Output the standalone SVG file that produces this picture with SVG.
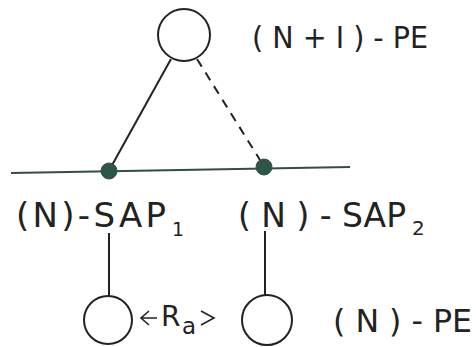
<svg xmlns="http://www.w3.org/2000/svg" width="476" height="347" viewBox="0 0 476 347">
<style>
.ln{stroke:#222;stroke-width:2;fill:none}
.ar{stroke:#222;stroke-width:1.6;fill:none}
.pe{fill:#fff;stroke:#222;stroke-width:2}
.sap{fill:#2f5549;stroke:#2f5549}
.t{font-family:"DejaVu Sans","Liberation Sans",sans-serif;fill:#222}
</style>
<rect width="476" height="347" fill="#fff"/>
<g id="connectors">
<line class="ln" x1="11" y1="173" x2="350" y2="167" style="stroke:#2f4f45"/>
<line class="ln" x1="171" y1="59" x2="111" y2="167"/>
<line class="ln" x1="197" y1="59" x2="260" y2="160" stroke-dasharray="9,7"/>
<line class="ln" x1="109" y1="233" x2="109" y2="296"/>
<line class="ln" x1="265" y1="231" x2="265" y2="295"/>
</g>
<g id="n1pe">
<circle class="pe" cx="184" cy="35" r="26"/>
<text class="t" x="252" y="48" font-size="31" textLength="176" lengthAdjust="spacingAndGlyphs">( N + I ) - PE</text>
</g>
<g id="sap1">
<circle class="sap" cx="109" cy="171" r="8"/>
<text class="t" x="16" y="227" font-size="34" textLength="150" lengthAdjust="spacing">(N)-SAP</text>
<text class="t" x="172" y="236" font-size="19">1</text>
</g>
<g id="sap2">
<circle class="sap" cx="264" cy="167" r="8"/>
<text class="t" x="238" y="227" font-size="34" textLength="168" lengthAdjust="spacingAndGlyphs">( N ) - SAP</text>
<text class="t" x="412" y="235" font-size="20">2</text>
</g>
<g id="npe1">
<circle class="pe" cx="108" cy="320" r="24"/>
</g>
<g id="npe2">
<circle class="pe" cx="267" cy="320" r="25"/>
<text class="t" x="333" y="332" font-size="32" textLength="139" lengthAdjust="spacingAndGlyphs">( N ) - PE</text>
</g>
<g id="ra">
<path class="ar" d="M149 311 L141 318 L149 325 M141 318 H157"/>
<text class="t" x="161" y="326" font-size="28">R</text>
<text class="t" x="182" y="334" font-size="23">a</text>
<path class="ar" d="M201 311 L214 318 L201 325"/>
</g>
</svg>
